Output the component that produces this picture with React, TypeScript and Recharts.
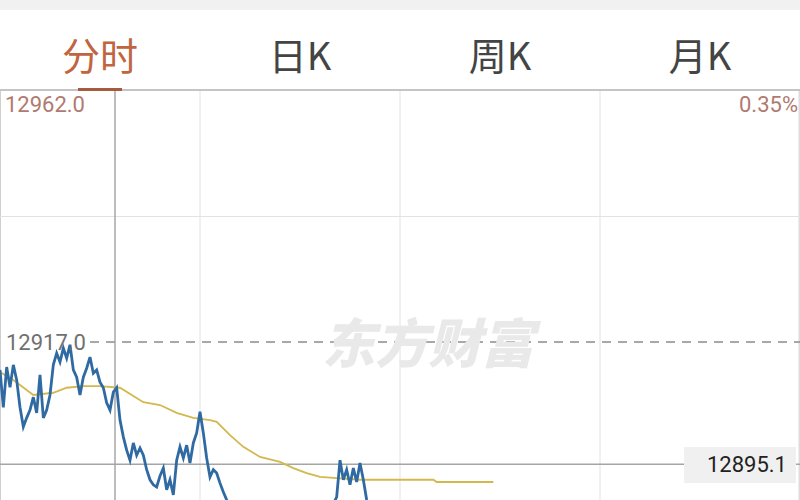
import React from "react";
import { LineChart, Line, XAxis, YAxis, ReferenceLine } from "recharts";

// Tab labels
const tabs = ["分时", "日K", "周K", "月K"];

// Price scale
const yMin = 12872;
const yMax = 12962;
const prevClose = 12917.0;
const crossPrice = 12895.1;
const crossMinute = 34.5;
const topLabel = "12962.0";
const topPct = "0.35%";
const prevLabel = "12917.0";
const crossLabel = "12895.1";
const hourMarks = [60, 120, 180];
const midPrice = 12939.5;

// Minute prices (one per minute from the open)
const prices = [
  12912.0, 12905.3, 12912.5, 12908.9, 12912.9, 12910.2, 12905.3, 12901.8, 12903.4, 12904.8,
  12907.1, 12904.3, 12911.1, 12903.4, 12904.8, 12907.5, 12912.9, 12915.0, 12913.4, 12915.9,
  12914.1, 12916.5, 12912.0, 12910.7, 12907.5, 12910.7, 12912.3, 12914.3, 12911.4, 12912.0,
  12909.8, 12908.8, 12906.1, 12904.8, 12908.0, 12908.8, 12903.0, 12900.0, 12897.6, 12895.8,
  12898.9, 12896.7, 12898.0, 12896.7, 12894.1, 12892.3, 12891.4, 12891.0, 12893.0, 12894.4,
  12890.5, 12892.3, 12889.6, 12895.8, 12898.2, 12896.2, 12898.5, 12895.3, 12898.9, 12900.7,
  12904.5, 12900.7, 12896.2, 12892.8, 12894.1, 12893.5, 12891.7, 12890.1, 12888.7,
  12887.5, 12886.0, 12884.2, 12885.1, 12883.0, 12881.9, 12882.8, 12881.4, 12882.5, 12883.2,
  12882.0, 12881.8, 12883.3, 12884.6, 12882.4, 12881.2, 12882.9, 12884.1, 12883.4, 12885.5,
  12884.2, 12886.4, 12885.0, 12886.1, 12885.2, 12887.0, 12886.3, 12887.2, 12886.6, 12887.8,
  12886.4, 12888.0,
  12889.2, 12895.8, 12892.3, 12894.1, 12891.4, 12894.4, 12891.9, 12895.3, 12892.3, 12888.7,
  12887.0, 12886.0, 12884.8, 12885.5, 12883.9, 12884.7, 12885.5, 12884.8, 12885.9, 12884.3,
  12885.6, 12886.9, 12885.2, 12884.5, 12885.8, 12886.1, 12885.4, 12886.6, 12887.2, 12886.3,
  12887.0, 12886.1, 12887.5, 12886.4, 12885.6, 12886.8, 12885.9, 12887.0, 12886.2, 12885.4,
  12886.5, 12885.7, 12884.9, 12886.0, 12885.3, 12884.6, 12885.5, 12885.1,
];

// Average price line (read points)
const avgMinutes = [0, 4, 10, 16, 20, 25, 30, 36, 43, 48, 53, 58, 63, 65, 69, 73, 78, 84, 88, 92, 96, 101, 108, 114, 130, 131, 148];
const avgValues = [
  12911.6, 12910.2, 12907.5, 12907.9, 12908.8, 12909.1, 12909.1, 12908.8, 12906.2, 12905.7,
  12904.3, 12903.4, 12903.0, 12902.7, 12900.3, 12898.2, 12896.4, 12895.5, 12894.4, 12893.5,
  12892.8, 12892.6, 12892.3, 12892.3, 12892.3, 12891.9, 12891.9,
];

const priceData = prices.map((p, i) => ({ m: i, price: p }));
const avgData = avgMinutes.map((m, i) => ({ m, avg: avgValues[i] }));

const numFont = "Roboto, 'Noto Sans', sans-serif";

export default function App() {
  return (
    <div
      style={{
        position: "absolute",
        left: 0,
        top: 0,
        width: 800,
        height: 500,
        overflow: "hidden",
        background: "#ffffff",
      }}
    >
      <div style={{ position: "absolute", left: 0, top: 0, width: 800, height: 10, background: "#f1f1f1" }} />
      {tabs.map((t, i) => (
        <div
          key={t}
          style={{
            position: "absolute",
            left: i * 200,
            top: 26,
            width: 200,
            textAlign: "center",
            fontFamily: "'Noto Sans CJK SC', sans-serif",
            fontSize: 38,
            lineHeight: "56px",
            color: i === 0 ? "#c0653f" : "#444444",
          }}
        >
          {t}
        </div>
      ))}
      <div style={{ position: "absolute", left: 0, top: 89, width: 800, height: 2, background: "#c4c4c4" }} />
      <div style={{ position: "absolute", left: 78, top: 88, width: 44, height: 3, background: "#a85a3c" }} />

      <div style={{ position: "absolute", left: 0, top: 91 }}>
        <LineChart
          width={800}
          height={502}
          margin={{ top: 0, right: 0, bottom: 0, left: 0 }}
        >
          <XAxis type="number" dataKey="m" domain={[0, 240]} hide allowDataOverflow />
          <YAxis type="number" domain={[yMin, yMax]} hide allowDataOverflow />
          <ReferenceLine x={0} stroke="#cfcfcf" strokeWidth={2} />
          <ReferenceLine x={240} stroke="#dcdcdc" strokeWidth={3} />
          {hourMarks.map((h) => (
            <ReferenceLine key={h} x={h} stroke="#e2e2e2" strokeWidth={1} />
          ))}
          <ReferenceLine y={midPrice} stroke="#e2e2e2" strokeWidth={1} />
          <ReferenceLine
            segment={[
              { x: 27, y: prevClose },
              { x: 240, y: prevClose },
            ]}
            stroke="#8c8c8c"
            strokeWidth={1.5}
            strokeDasharray="9 7"
            label={{ value: prevLabel, position: "left", offset: 4, fill: "#707070", fontSize: 22, fontFamily: numFont }}
          />
          <ReferenceLine x={crossMinute} stroke="#9a9a9a" strokeWidth={1.3} />
          <ReferenceLine y={crossPrice} stroke="#a5a5a5" strokeWidth={1.5} />
          <Line
            data={avgData}
            dataKey="avg"
            type="linear"
            stroke="#d2b84e"
            strokeWidth={1.8}
            dot={false}
            isAnimationActive={false}
          />
          <Line
            data={priceData}
            dataKey="price"
            type="linear"
            stroke="#2f6aa3"
            strokeWidth={2.8}
            dot={false}
            isAnimationActive={false}
          />
        </LineChart>
      </div>

      <div
        style={{
          position: "absolute",
          left: 5,
          top: 92,
          fontFamily: numFont,
          fontSize: 22,
          color: "#b07a70",
        }}
      >
        {topLabel}
      </div>
      <div
        style={{
          position: "absolute",
          right: 2,
          top: 92,
          fontFamily: numFont,
          fontSize: 22,
          color: "#b07a70",
        }}
      >
        {topPct}
      </div>
      <div
        style={{
          position: "absolute",
          left: 684,
          top: 447,
          width: 112,
          height: 36,
          background: "#f0f0f0",
          fontFamily: numFont,
          fontSize: 22,
          lineHeight: "36px",
          color: "#222222",
          textAlign: "right",
          boxSizing: "border-box",
          paddingRight: 9,
        }}
      >
        {crossLabel}
      </div>
      <div
        style={{
          position: "absolute",
          left: 322,
          top: 309,
          fontFamily: "'Noto Sans CJK SC', sans-serif",
          fontSize: 53,
          fontWeight: 900,
          fontStyle: "italic",
          color: "#e9e9e9",
          lineHeight: "62px",
          pointerEvents: "none",
        }}
      >
        东方财富
      </div>
    </div>
  );
}
